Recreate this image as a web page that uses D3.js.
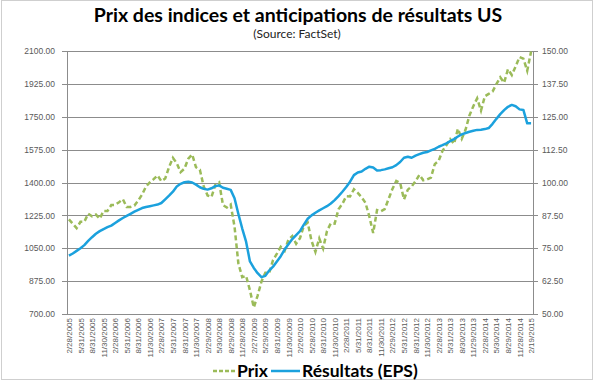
<!DOCTYPE html>
<html><head><meta charset="utf-8">
<script src="https://cdn.jsdelivr.net/npm/d3@7"></script>
<style>
html,body{margin:0;padding:0;background:#fff;}
svg{display:block;}
</style></head>
<body>
<svg id="c" width="595" height="385"></svg>
<script>
// Tick labels (every 3rd monthly category)
const tickLabels = ["2/28/2005","5/31/2005","8/31/2005","11/30/2005","2/28/2006","5/31/2006","8/31/2006","11/30/2006",
"2/28/2007","5/31/2007","8/31/2007","11/30/2007","2/29/2008","5/30/2008","8/29/2008","11/28/2008",
"2/27/2009","5/29/2009","8/31/2009","11/30/2009","2/26/2010","5/28/2010","8/31/2010","11/30/2010",
"2/28/2011","5/31/2011","8/31/2011","11/30/2011","2/29/2012","5/31/2012","8/31/2012","11/30/2012",
"2/28/2013","5/31/2013","8/30/2013","11/29/2013","2/28/2014","5/30/2014","8/29/2014","11/28/2014","2/19/2015"];

// Prix (left axis), monthly Feb 2005 .. Feb 2015
const prix = [1204,1181,1157,1191,1191,1234,1220,1229,1207,1249,1248,
1280,1281,1295,1311,1270,1270,1277,1304,1336,1378,1401,1418,
1438,1407,1421,1482,1531,1503,1455,1474,1527,1549,1481,1468,
1379,1331,1323,1386,1400,1280,1267,1283,1165,969,896,903,
826,735,798,873,919,919,987,1021,1057,1036,1096,1115,
1074,1104,1169,1187,1089,1031,1102,1049,1141,1183,1181,1258,
1286,1327,1326,1364,1345,1321,1292,1219,1131,1253,1247,1258,
1312,1366,1408,1398,1310,1362,1379,1407,1441,1412,1416,1426,
1498,1515,1569,1598,1631,1606,1686,1633,1682,1757,1806,1848,
1783,1859,1872,1884,1924,1960,1931,2003,1972,2018,2068,2059,
1995,2097];

// Résultats (EPS), right axis
const eps = [72.2,73.0,74.0,75.0,76.2,77.8,79.2,80.5,81.5,82.3,83.0,83.6,
84.6,85.6,86.5,87.3,88.1,88.9,89.6,90.3,90.7,91.0,91.3,91.6,
92.2,93.6,95.0,96.5,98.5,99.5,100.1,100.3,100.0,99.2,98.2,97.6,
97.3,97.8,98.6,98.9,98.0,97.6,97.2,94.0,88.0,82.5,77.5,70.0,
67.5,65.5,64.0,64.5,66.5,68.0,70.0,72.0,74.5,76.5,78.5,80.0,
81.5,84.0,86.2,87.5,88.5,89.4,90.2,91.0,92.0,93.3,94.8,96.5,
98.3,100.3,102.8,103.8,104.2,105.2,106.0,105.7,104.6,104.7,105.0,105.4,
105.8,106.6,107.8,109.4,109.8,109.4,110.2,110.8,111.3,111.6,112.2,112.8,
113.6,114.2,114.9,115.7,116.5,117.5,118.3,118.8,119.3,119.7,120.0,120.1,
120.3,120.7,122.3,124.2,126.0,127.5,128.8,129.5,129.0,127.8,127.6,122.5,122.5];

const leftTicks = [700,875,1050,1225,1400,1575,1750,1925,2100];
const rightTicks = [50,62.5,75,87.5,100,112.5,125,137.5,150];

const svg = d3.select("#c");
const L = 67, R = 533, T = 51, B = 314;
const n = prix.length;
const band = (R - L) / n;

const x = d3.scaleLinear().domain([0, n - 1]).range([L + band/2, R - band/2]);
const yL = d3.scaleLinear().domain([700, 2100]).range([B, T]);
const yR = d3.scaleLinear().domain([50, 150]).range([B, T]);

// outer frame
svg.append("rect").attr("x",1.5).attr("y",0.5).attr("width",591).attr("height",379)
  .attr("fill","none").attr("stroke","#cfcfcf");

// title
svg.append("text").attr("x",298).attr("y",22).attr("text-anchor","middle")
  .attr("font-family","Lato, 'Open Sans', sans-serif").attr("font-weight","bold")
  .attr("font-size",19.5).attr("fill","#000").text("Prix des indices et anticipations de résultats US");
svg.append("text").attr("x",297).attr("y",38).attr("text-anchor","middle")
  .attr("font-family","Lato, 'Open Sans', sans-serif")
  .attr("font-size",12).attr("fill","#222").text("(Source: FactSet)");

// gridlines
svg.append("g").selectAll("line").data(leftTicks).join("line")
  .attr("x1",L-5).attr("x2",R+5).attr("y1",d=>Math.round(yL(d))+0.5).attr("y2",d=>Math.round(yL(d))+0.5)
  .attr("stroke","#8c8c8c").attr("stroke-width",1);

// axes
const axL = svg.append("g").attr("transform",`translate(${L},0)`)
  .call(d3.axisLeft(yL).tickValues(leftTicks).tickFormat(d3.format(".2f")).tickSize(0).tickPadding(12));
const axR = svg.append("g").attr("transform",`translate(${R},0)`)
  .call(d3.axisRight(yR).tickValues(rightTicks).tickFormat(d3.format(".2f")).tickSize(0).tickPadding(9));
const axB = svg.append("g").attr("transform",`translate(0,${B})`)
  .call(d3.axisBottom(x).tickValues(d3.range(0, n, 3)).tickFormat((d,i)=>tickLabels[i]).tickSize(0).tickPadding(4));

[axL, axR, axB].forEach(a=>{
  a.select(".domain").attr("stroke","#8c8c8c");
  a.selectAll("text").attr("font-family","'Liberation Sans', Arial, sans-serif").attr("fill","#595959");
});
axL.selectAll("text").attr("font-size",8.5);
axR.selectAll("text").attr("font-size",8.5);
axB.selectAll("text").attr("font-size",8)
  .attr("transform","rotate(-90)").attr("text-anchor","end").attr("dy","0.32em").attr("x",-4).attr("y",0);
svg.append("line").attr("x1",L+0.5).attr("x2",L+0.5).attr("y1",T).attr("y2",B).attr("stroke","#8c8c8c");
svg.append("line").attr("x1",R+0.5).attr("x2",R+0.5).attr("y1",T).attr("y2",B).attr("stroke","#8c8c8c");

// lines
const linePrix = d3.line().x((d,i)=>x(i)).y(d=>yL(d));
const lineEps = d3.line().x((d,i)=>x(i)).y(d=>yR(d));

svg.append("path").datum(prix).attr("d",linePrix).attr("fill","none")
  .attr("stroke","#9bbb59").attr("stroke-width",2.5).attr("stroke-dasharray","5,3");
svg.append("path").datum(eps).attr("d",lineEps).attr("fill","none")
  .attr("stroke","#1ba1dd").attr("stroke-width",2.5).attr("stroke-linejoin","round");

// legend
const lg = svg.append("g").attr("font-family","Lato, 'Open Sans', sans-serif").attr("font-weight","bold")
  .attr("font-size",17.5).attr("fill","#000");
lg.append("line").attr("x1",213).attr("x2",235).attr("y1",371).attr("y2",371)
  .attr("stroke","#9bbb59").attr("stroke-width",2.5).attr("stroke-dasharray","4,2");
lg.append("text").attr("x",237).attr("y",377).text("Prix");
lg.append("line").attr("x1",271).attr("x2",300).attr("y1",371).attr("y2",371)
  .attr("stroke","#1ba1dd").attr("stroke-width",2.5);
lg.append("text").attr("x",302).attr("y",377).text("Résultats (EPS)");
</script>
</body></html>
